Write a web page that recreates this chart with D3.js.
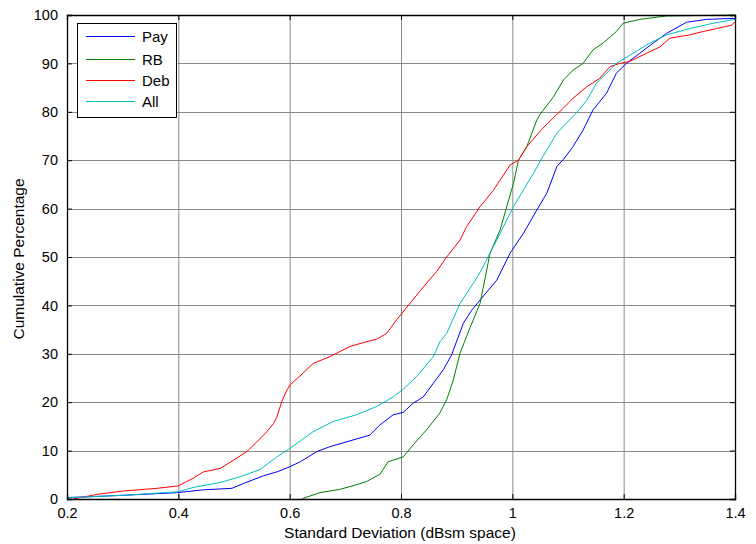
<!DOCTYPE html>
<html>
<head>
<meta charset="utf-8">
<script src="https://cdn.jsdelivr.net/npm/d3@7"></script>
<style>
  html, body { margin: 0; padding: 0; background: #fff; }
  svg text { font-family: Arial, "Liberation Sans", sans-serif; fill: #000; }
</style>
</head>
<body>
<svg id="chart" width="756" height="544"></svg>
<script>
// Cumulative distributions of standard deviation, [x, cumulative %] pairs
const payData = [
  [0.2, 0.3], [0.247, 0.5], [0.307, 0.8], [0.397, 1.3], [0.445, 1.9], [0.496, 2.2],
  [0.517, 3.2], [0.553, 4.8], [0.577, 5.6], [0.601, 6.7], [0.619, 7.7], [0.649, 9.8],
  [0.672, 10.8], [0.714, 12.2], [0.744, 13.2], [0.762, 15.3], [0.786, 17.4], [0.804, 17.9],
  [0.822, 19.8], [0.84, 21.1], [0.858, 23.9], [0.876, 26.7], [0.891, 29.8], [0.9, 32.6],
  [0.912, 36.3], [0.927, 39], [0.942, 41.1], [0.972, 45.2], [0.996, 50.8], [1.02, 54.9],
  [1.044, 59.7], [1.062, 63.2], [1.08, 68.7], [1.092, 70.2], [1.109, 72.8], [1.127, 76.2],
  [1.145, 80.4], [1.169, 83.8], [1.187, 88], [1.205, 90], [1.229, 92.1], [1.253, 94.2],
  [1.277, 96.2], [1.313, 98.5], [1.349, 99.1], [1.4, 99.3]
];
const rbData = [
  [0.623, 0.1], [0.654, 1.3], [0.69, 2], [0.716, 2.8], [0.738, 3.6], [0.762, 5.1],
  [0.777, 7.7], [0.804, 8.7], [0.822, 11.2], [0.846, 14.3], [0.87, 17.8], [0.882, 20.5],
  [0.894, 24.6], [0.906, 30.1], [0.924, 35.4], [0.942, 40.4], [0.96, 50.8], [0.978, 55.6],
  [0.99, 60.4], [1.002, 65.2], [1.011, 70], [1.026, 72.8], [1.044, 78.3], [1.05, 79.5],
  [1.074, 83.1], [1.092, 86.6], [1.109, 88.6], [1.127, 90], [1.145, 92.8], [1.163, 94.2],
  [1.187, 96.6], [1.199, 98.3], [1.229, 99.1], [1.277, 99.8], [1.4, 100]
];
const debData = [
  [0.211, 0], [0.256, 1], [0.301, 1.65], [0.361, 2.2], [0.4, 2.7], [0.415, 3.6],
  [0.427, 4.3], [0.445, 5.6], [0.475, 6.3], [0.499, 8], [0.523, 9.8], [0.541, 11.8],
  [0.559, 13.9], [0.571, 15.6], [0.577, 16.9], [0.586, 20.2], [0.595, 22.5], [0.601, 23.6],
  [0.624, 26], [0.642, 28], [0.672, 29.4], [0.708, 31.5], [0.732, 32.3], [0.756, 33],
  [0.774, 34.2], [0.792, 37], [0.816, 40.4], [0.84, 43.8], [0.864, 47], [0.882, 50],
  [0.906, 53.5], [0.918, 56.3], [0.942, 60.4], [0.966, 63.8], [0.996, 69], [1.011, 70],
  [1.026, 72.8], [1.053, 76.4], [1.074, 78.8], [1.092, 80.8], [1.109, 82.8], [1.134, 85.2],
  [1.157, 86.9], [1.175, 89.3], [1.193, 90], [1.211, 90.4], [1.241, 92.1], [1.265, 93.4],
  [1.283, 95.2], [1.319, 95.9], [1.343, 96.6], [1.367, 97.2], [1.394, 97.9], [1.4, 98.6]
];
const allData = [
  [0.2, 0.2], [0.247, 0.5], [0.307, 0.8], [0.4, 1.5], [0.427, 2.4], [0.475, 3.4],
  [0.511, 4.6], [0.547, 6.1], [0.577, 8.7], [0.601, 10.5], [0.619, 12], [0.642, 13.9],
  [0.678, 16], [0.72, 17.4], [0.756, 19.1], [0.786, 21.1], [0.804, 22.7], [0.828, 25.3],
  [0.858, 29.4], [0.87, 32.5], [0.882, 34.2], [0.906, 40.4], [0.93, 44.6], [0.942, 46.8],
  [0.972, 53.5], [1.002, 60.4], [1.038, 67.3], [1.056, 71], [1.08, 75.6], [1.116, 79.9],
  [1.134, 82.4], [1.151, 85.9], [1.187, 90], [1.217, 92.1], [1.247, 94.2], [1.277, 95.9],
  [1.319, 97.2], [1.361, 98.3], [1.4, 99.1]
];

const seriesNames = ["Pay", "RB", "Deb", "All"];
const seriesColors = ["#0000ff", "#008000", "#ff0000", "#00bfbf"];
const seriesData = [payData, rbData, debData, allData];

const xTicks = [0.2, 0.4, 0.6, 0.8, 1, 1.2, 1.4];
const yTicks = [0, 10, 20, 30, 40, 50, 60, 70, 80, 90, 100];

const svg = d3.select("#chart");
const margin = { left: 67, top: 15, right: 21, bottom: 45 };
const W = 756 - margin.left - margin.right;
const H = 544 - margin.top - margin.bottom;

const x = d3.scaleLinear().domain([0.2, 1.4]).range([0, W]);
const y = d3.scaleLinear().domain([0, 100]).range([H, 0]);

const g = svg.append("g").attr("transform", `translate(${margin.left},${margin.top})`);

// Grid lines
g.append("g").selectAll("line").data(xTicks.slice(1, -1)).join("line")
  .attr("x1", d => x(d) + 0.5).attr("x2", d => x(d) + 0.5)
  .attr("y1", 0).attr("y2", H)
  .attr("stroke", "#8a8a8a").attr("stroke-width", 1);
g.append("g").selectAll("line").data(yTicks.slice(1, -1)).join("line")
  .attr("y1", d => Math.round(y(d)) + 0.5).attr("y2", d => Math.round(y(d)) + 0.5)
  .attr("x1", 0).attr("x2", W)
  .attr("stroke", "#8a8a8a").attr("stroke-width", 1);

// Curves
const line = d3.line().x(d => x(d[0])).y(d => y(d[1]));
g.append("g").selectAll("path").data(seriesData).join("path")
  .attr("d", line)
  .attr("fill", "none")
  .attr("stroke", (d, i) => seriesColors[i])
  .attr("stroke-width", 1);

// Axes with inward ticks on all four sides
const fmtX = d => d3.format("")(d);
const axBottom = g.append("g").attr("transform", `translate(0,${H})`)
  .call(d3.axisBottom(x).tickValues(xTicks).tickSize(-5).tickPadding(9).tickFormat(fmtX));
const axTop = g.append("g")
  .call(d3.axisTop(x).tickValues(xTicks).tickSize(-5).tickFormat(""));
const axLeft = g.append("g")
  .call(d3.axisLeft(y).tickValues(yTicks).tickSize(-5).tickPadding(9));
const axRight = g.append("g").attr("transform", `translate(${W},0)`)
  .call(d3.axisRight(y).tickValues(yTicks).tickSize(-5).tickFormat(""));

[axBottom, axTop, axLeft, axRight].forEach(a => {
  a.select(".domain").attr("stroke", "#000").attr("stroke-width", 1.3);
  a.selectAll(".tick line").attr("stroke", "#000");
  a.selectAll("text").attr("font-size", 14.5).attr("font-family", "Arial, 'Liberation Sans', sans-serif").attr("fill", "#000");
});

// Axis titles
svg.append("text")
  .attr("x", margin.left + W / 2 - 1).attr("y", 538)
  .attr("text-anchor", "middle").attr("font-size", 15.5)
  .text("Standard Deviation (dBsm space)");
svg.append("text")
  .attr("transform", `translate(24,${margin.top + H / 2 + 2}) rotate(-90)`)
  .attr("text-anchor", "middle").attr("font-size", 15.5)
  .text("Cumulative Percentage");

// Legend
const lg = svg.append("g").attr("transform", "translate(77,23)");
lg.append("rect").attr("x", 0.5).attr("y", 0.5).attr("width", 99).attr("height", 94)
  .attr("fill", "#fff").attr("stroke", "#000").attr("stroke-width", 1);
const entryY = [13, 36, 57, 78];
const items = lg.selectAll("g.item").data(seriesNames).join("g").attr("class", "item")
  .attr("transform", (d, i) => `translate(0,${entryY[i]})`);
items.append("line").attr("x1", 9).attr("x2", 58).attr("y1", 0.5).attr("y2", 0.5)
  .attr("stroke", (d, i) => seriesColors[i]).attr("stroke-width", 1);
items.append("text").attr("x", 65).attr("y", 5.5).attr("font-size", 15).text(d => d);
</script>
</body>
</html>
